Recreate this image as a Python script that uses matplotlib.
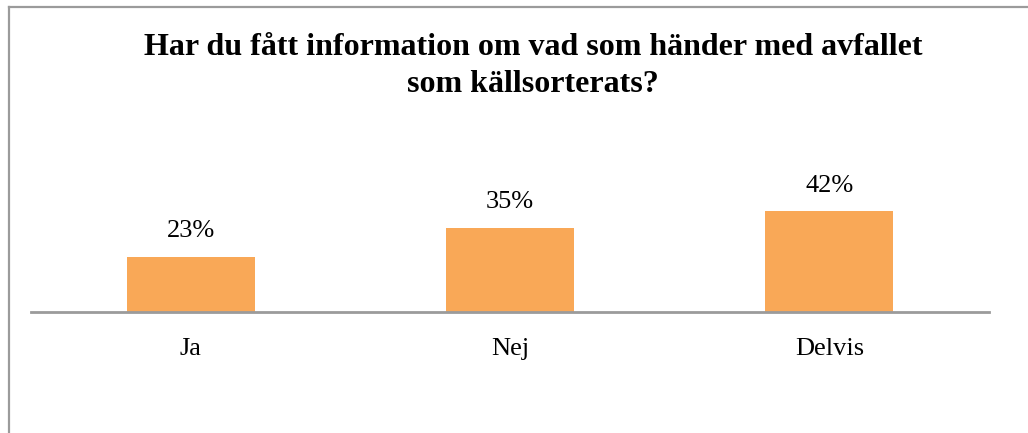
import matplotlib
matplotlib.use("Agg")
import matplotlib.pyplot as plt
from matplotlib.lines import Line2D

# Data
categories = ['Ja', 'Nej', 'Delvis']
shares = [0.23, 0.35, 0.42]
value_labels = ['23%', '35%', '42%']

title = "Har du fått information om vad som händer med avfallet\nsom källsorterats?"
bar_color = '#F9A857'
line_color = '#9B9B9B'

W, H = 1028, 433
fig = plt.figure(figsize=(W / 100, H / 100), dpi=100)

# plot area in pixels: x 31..989, baseline at y=312
ax = fig.add_axes([31 / W, (H - 312) / H, 958 / W, 182 / H])
ax.bar(range(len(categories)), shares, width=0.4, color=bar_color)
ax.set_xlim(-0.5, len(categories) - 0.5)
ax.set_ylim(0, 182 / 240.5)

for i, lab in enumerate(value_labels):
    ax.annotate(lab, (i, shares[i]), xytext=(0, 14), textcoords='offset points',
                ha='center', va='baseline', fontsize=19, family='Liberation Serif')

ax.set_xticks(range(len(categories)))
ax.set_xticklabels(categories, fontsize=19, family='Liberation Serif')
ax.tick_params(axis='x', length=0, pad=19)
ax.set_yticks([])
for s in ['top', 'right', 'left']:
    ax.spines[s].set_visible(False)
ax.spines['bottom'].set_color(line_color)
ax.spines['bottom'].set_linewidth(2)

fig.text(533 / W, 1 - 33 / H, title, ha='center', va='top', fontsize=23,
         fontweight='bold', family='Liberation Serif', linespacing=1.37)

# chart frame (only top and left edges visible)
fig.add_artist(Line2D([8.5 / W, 8.5 / W], [0, 1 - 7 / H], color=line_color, lw=1.6,
                      transform=fig.transFigure))
fig.add_artist(Line2D([8.5 / W, 1], [1 - 7 / H, 1 - 7 / H], color=line_color, lw=1.6,
                      transform=fig.transFigure))

fig.savefig('out.png', dpi=100)
